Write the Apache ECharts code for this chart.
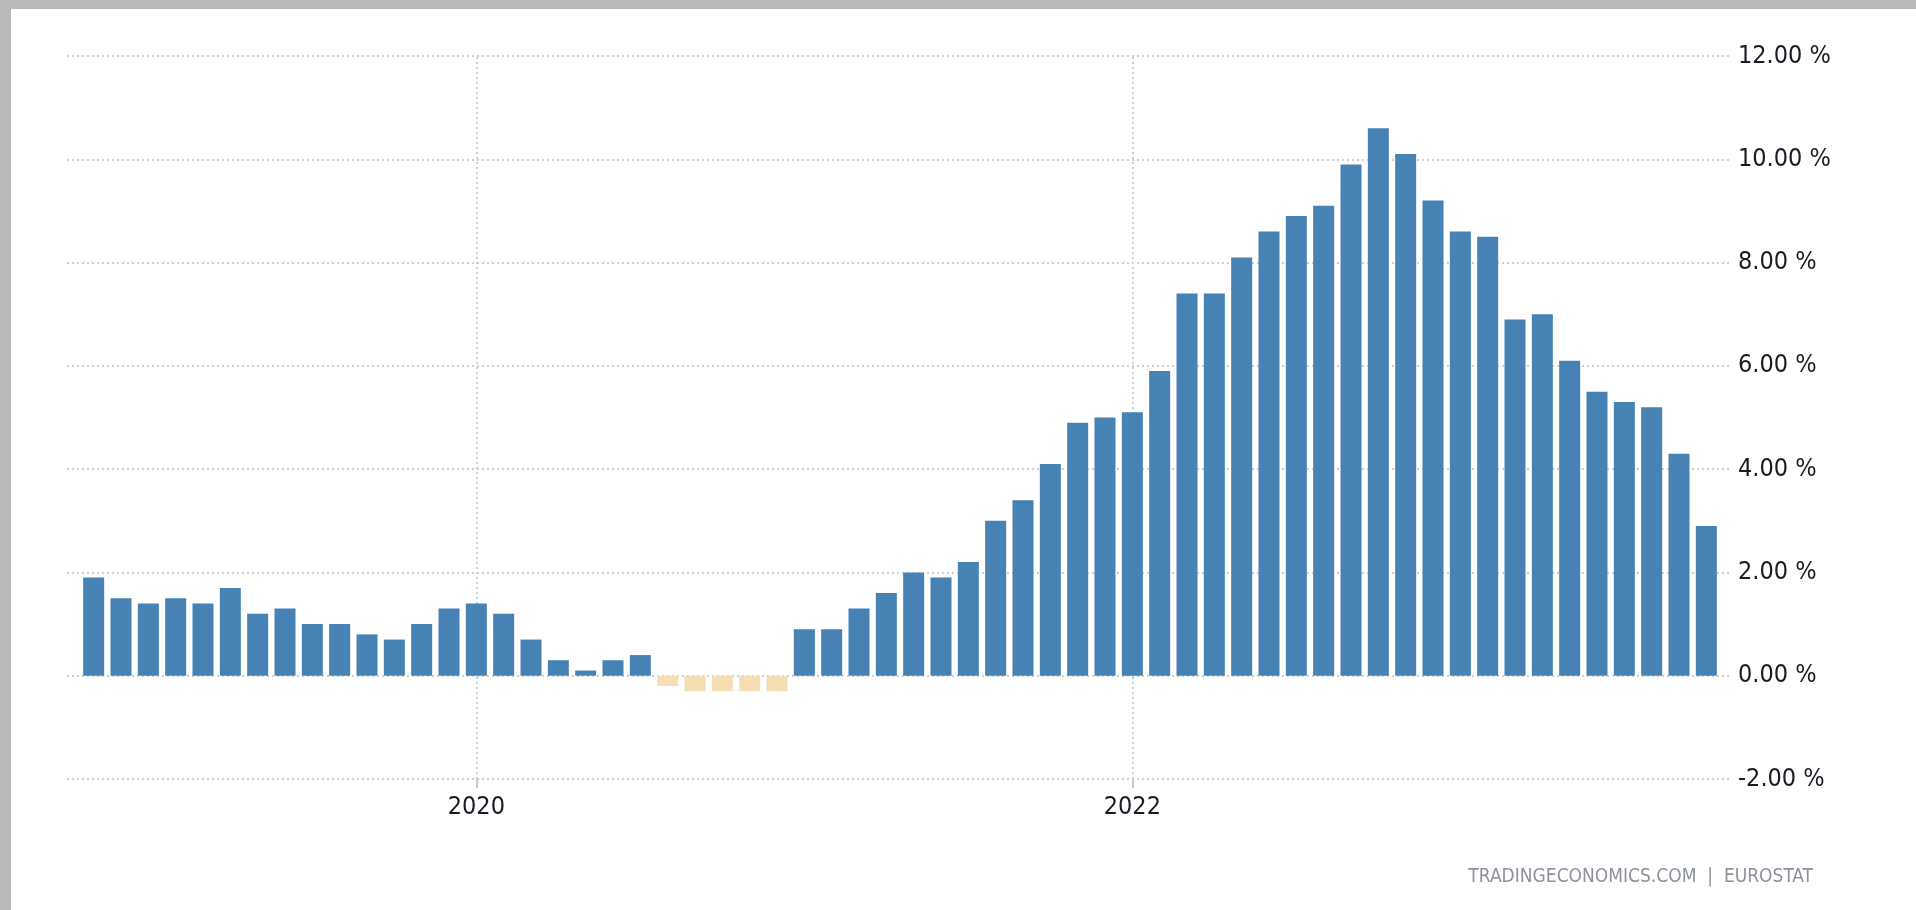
<!DOCTYPE html>
<html lang="en">
<head>
    <meta charset="UTF-8">
    <title>Euro Area Inflation Rate</title>
    <script src="https://cdn.jsdelivr.net/npm/echarts@6/dist/echarts.min.js"></script>
    <style>
        html, body { margin: 0; padding: 0; background: #fff; }
        #chart { width: 1916px; height: 910px; }
    </style>
</head>
<body>
    <div id="chart"></div>

    <script>
        // monthly, Nov 2018 .. Oct 2023
        const months = [];
        for (let y = 2018; y <= 2023; y++) {
            for (let m = 1; m <= 12; m++) {
                if ((y === 2018 && m < 11) || (y === 2023 && m > 10)) continue;
                months.push(y + '-' + String(m).padStart(2, '0'));
            }
        }

        // inflation rate, %
        const inflation = [
            1.9, 1.5,
            1.4, 1.5, 1.4, 1.7, 1.2, 1.3, 1.0, 1.0, 0.8, 0.7, 1.0, 1.3,
            1.4, 1.2, 0.7, 0.3, 0.1, 0.3, 0.4, -0.2, -0.3, -0.3, -0.3, -0.3,
            0.9, 0.9, 1.3, 1.6, 2.0, 1.9, 2.2, 3.0, 3.4, 4.1, 4.9, 5.0,
            5.1, 5.9, 7.4, 7.4, 8.1, 8.6, 8.9, 9.1, 9.9, 10.6, 10.1, 9.2,
            8.6, 8.5, 6.9, 7.0, 6.1, 5.5, 5.3, 5.2, 4.3, 2.9
        ];

        // only these months get a year label / vertical grid line
        const labelledYears = ['2020-01', '2022-01'];
        const yTicks = [-2, 0, 2, 4, 6, 8, 10, 12];

        const FONT = "'DejaVu Sans Condensed', 'Liberation Sans Narrow', sans-serif";
        const GRID_LINE = { color: '#cfcfcf', type: [2, 3], width: 2 };

        const chart = echarts.init(document.getElementById('chart'));

        function isLabelled(i) {
            return labelledYears.indexOf(months[i]) !== -1;
        }

        const option = {
            backgroundColor: '#fff',
            animation: false,
            graphic: [
                { type: 'rect', left: 0, top: 0, shape: { width: 1916, height: 9 }, style: { fill: '#b9b9b9' }, z: 100 },
                { type: 'rect', left: 0, top: 0, shape: { width: 11, height: 910 }, style: { fill: '#b9b9b9' }, z: 100 },
                {
                    type: 'text',
                    right: 103,
                    top: 868,
                    style: {
                        text: 'TRADINGECONOMICS.COM  |  EUROSTAT',
                        font: '19px ' + FONT,
                        fill: '#8c919b'
                    }
                }
            ],
            grid: [
                // bars
                { left: 80, right: 196, top: 56, bottom: 131 },
                // wider grid for the horizontal lines and y labels
                { left: 67, right: 184, top: 56, bottom: 131 }
            ],
            xAxis: [
                {
                    type: 'category',
                    gridIndex: 0,
                    data: months,
                    boundaryGap: true,
                    // line kept invisible so the year ticks still draw
                    axisLine: { show: true, onZero: false, lineStyle: { color: 'rgba(0,0,0,0)' } },
                    axisTick: {
                        show: true,
                        alignWithLabel: true,
                        interval: function (i) { return isLabelled(i); },
                        length: 9,
                        lineStyle: { color: '#c8c8c8', width: 2 }
                    },
                    axisLabel: {
                        interval: function (i) { return isLabelled(i); },
                        formatter: function (v) { return v.slice(0, 4); },
                        color: '#1b1b24',
                        fontFamily: FONT,
                        fontSize: 25,
                        margin: 16
                    },
                    splitLine: { show: false }
                },
                {
                    type: 'value',
                    gridIndex: 1,
                    show: false,
                    splitLine: { show: false }
                }
            ],
            yAxis: [
                {
                    type: 'value',
                    gridIndex: 0,
                    min: -2,
                    max: 12,
                    interval: 2,
                    show: false,
                    splitLine: { show: false }
                },
                {
                    type: 'value',
                    gridIndex: 1,
                    position: 'right',
                    min: yTicks[0],
                    max: yTicks[yTicks.length - 1],
                    interval: 2,
                    axisLine: { show: false },
                    axisTick: { show: false },
                    axisLabel: {
                        margin: 6,
                        color: '#1b1b24',
                        fontFamily: FONT,
                        fontSize: 25,
                        formatter: function (v) { return v.toFixed(2) + ' %'; }
                    },
                    splitLine: { show: true, lineStyle: GRID_LINE }
                }
            ],
            series: [
                {
                    name: 'Inflation Rate',
                    type: 'bar',
                    xAxisIndex: 0,
                    yAxisIndex: 0,
                    barWidth: 21,
                    data: inflation.map(function (v) {
                        return {
                            value: v,
                            itemStyle: { color: v < 0 ? '#f5deb3' : '#4682b4' }
                        };
                    }),
                    z: 3,
                    // vertical year lines through the January bars, behind the bars
                    markLine: {
                        silent: true,
                        z: 1,
                        symbol: 'none',
                        label: { show: false },
                        lineStyle: GRID_LINE,
                        data: labelledYears.map(function (m) { return { xAxis: m }; })
                    }
                }
            ]
        };

        chart.setOption(option);
    </script>
</body>
</html>
